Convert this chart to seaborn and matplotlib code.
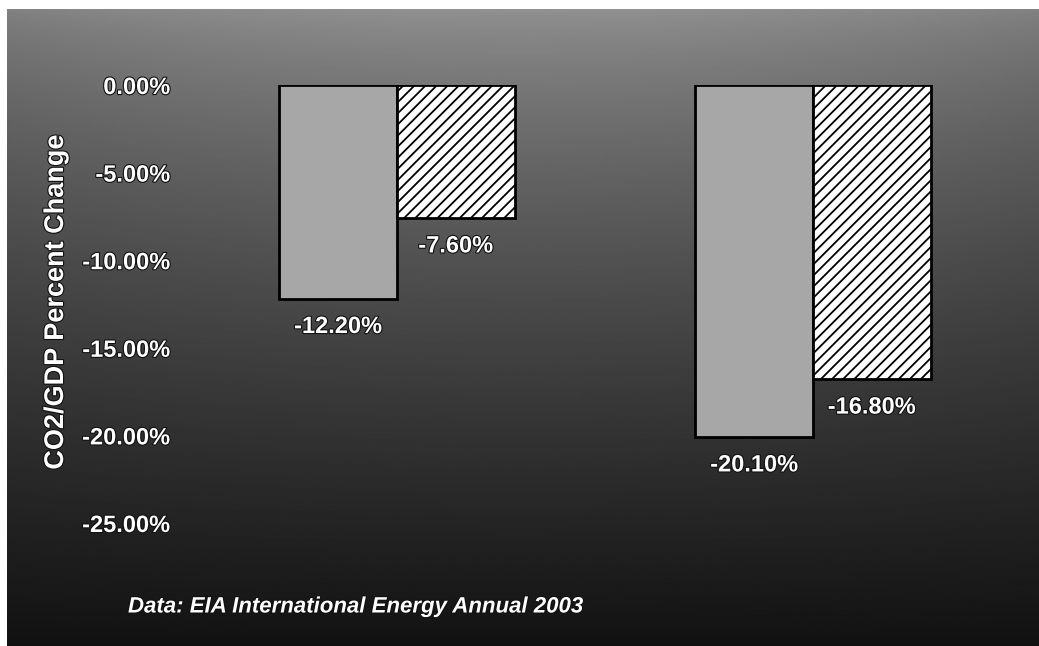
import numpy as np
import pandas as pd
import matplotlib
matplotlib.use("Agg")
import matplotlib.pyplot as plt
import matplotlib.patheffects as pe
from matplotlib.ticker import FuncFormatter
import seaborn as sns

# ---- data ----
categories = ["Period 1", "Period 2"]
series = ["Series A", "Series B"]
values_a = [-12.2, -20.1]
values_b = [-7.6, -16.8]
yticks = [0, -5, -10, -15, -20, -25]
ylabel = "CO2/GDP Percent Change"
source = "Data: EIA International Energy Annual 2003"

df = pd.DataFrame({
    "category": categories * 2,
    "series": [series[0]] * 2 + [series[1]] * 2,
    "value": values_a + values_b,
})

sns.set_theme(style="white")
plt.rcParams["font.family"] = ["Liberation Sans", "DejaVu Sans"]
plt.rcParams["hatch.linewidth"] = 1.3

W, H = 1039, 646
fig = plt.figure(figsize=(W / 100, H / 100), dpi=100)
fig.patch.set_facecolor("white")

# background gradient panel
bg = fig.add_axes([7 / W, 0, 1 - 7 / W, 1 - 9 / H], zorder=0)
ny, nx = 300, 300
yy = np.linspace(0, 1, ny)[:, None]
xx = np.linspace(-1, 1, nx)[None, :]
vals = 0.57 - 0.50 * yy ** 0.75 - 0.06 * (xx ** 2) * (1 - yy)
vals = np.clip(vals, 0.06, 1)
bg.imshow(vals, cmap="gray", vmin=0, vmax=1, aspect="auto",
          extent=[0, 1, 0, 1], origin="upper")
bg.set_axis_off()

ax = fig.add_axes([180 / W, (H - 523) / H, 850 / W, 438 / H], zorder=1)
ax.patch.set_alpha(0)

sns.barplot(data=df, x="category", y="value", hue="series",
            palette={series[0]: "#a7a7a7", series[1]: "white"},
            width=0.565, edgecolor="black", linewidth=2, legend=False,
            ax=ax, saturation=1)

for p in ax.containers[1]:
    p.set_hatch("///")

ax.set_ylim(-25, 0)
ax.set_xlim(-0.5216, 1.5216)
ax.set_yticks(yticks)
ax.yaxis.set_major_formatter(FuncFormatter(lambda v, _: f"{v:.2f}%"))
ax.set_xticks([])
ax.set_xlabel("")
ax.set_ylabel("")
for s in ax.spines.values():
    s.set_visible(False)

effects = [pe.Stroke(linewidth=1.6, foreground="#111111"), pe.Normal()]
ax.tick_params(axis="y", length=0, pad=7, labelsize=17, labelcolor="white")
for t in ax.get_yticklabels():
    t.set_fontweight("bold")
    t.set_path_effects(effects)

for cont in ax.containers:
    for rect in cont:
        cx = rect.get_x() + rect.get_width() / 2
        v = rect.get_height()
        ax.annotate(f"{v:.2f}%", xy=(cx, v), xytext=(0, -20),
                    textcoords="offset points", ha="center", va="center",
                    fontsize=17, fontweight="bold", color="white",
                    path_effects=effects, annotation_clip=False)

fig.text(56 / W, 1 - 302 / H, ylabel, rotation=90, ha="center", va="center",
         fontsize=19.5, fontweight="bold", color="white", path_effects=effects)
fig.text(128 / W, 1 - 607 / H, source, ha="left", va="center",
         fontsize=16, fontweight="bold", fontstyle="italic", color="white",
         path_effects=effects)

fig.savefig("out.png", dpi=100)
